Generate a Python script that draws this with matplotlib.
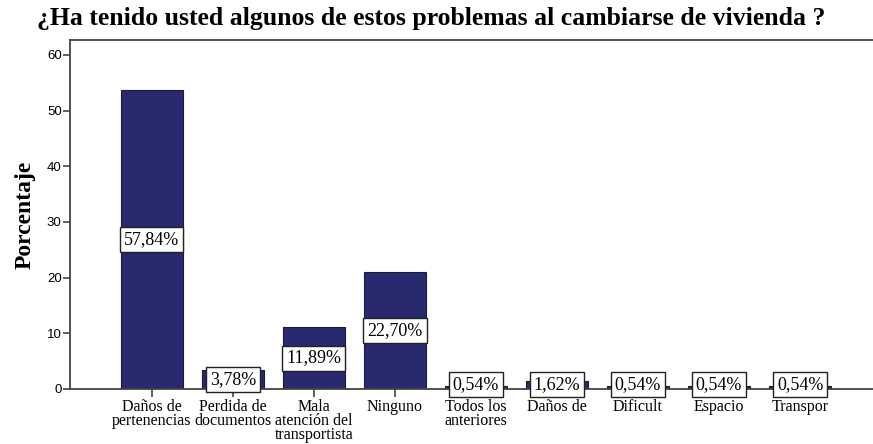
import numpy as np
import matplotlib
matplotlib.use("Agg")
import matplotlib.pyplot as plt

# categories and values
categories = ["Daños de\npertenencias", "Perdida de\ndocumentos", "Mala\natención del\ntransportista",
              "Ninguno", "Todos los\nanteriores", "Daños de", "Dificult", "Espacio", "Transpor"]
heights = [53.7, 3.5, 11.1, 21.1, 0.5, 1.5, 0.5, 0.5, 0.5]
bar_labels = ["57,84%", "3,78%", "11,89%", "22,70%", "0,54%", "1,62%", "0,54%", "0,54%", "0,54%"]
y_ticks = [0, 10, 20, 30, 40, 50, 60]

bar_color = "#29296f"
serif = "Liberation Serif"
sans = "Liberation Sans"

fig = plt.figure(figsize=(8.73, 4.44), dpi=100)
ax = fig.add_axes([0.0802, 0.1239, 0.9198, 0.7861])

x = np.arange(len(categories))
ax.bar(x, heights, width=0.76, color=bar_color, edgecolor="#1a1a3a", linewidth=0.8, zorder=2)

# value boxes at half the bar height
for xi, h, lab in zip(x, heights, bar_labels):
    ax.text(xi, max(h / 2, 0.8), lab, ha="center", va="center", fontsize=13, family=serif, zorder=4,
            bbox=dict(boxstyle="square,pad=0.22", facecolor="white", edgecolor="#222222", linewidth=1.0))

ax.set_xlim(-1.01, 8.9)
ax.set_ylim(0, 62.7)
ax.set_yticks(y_ticks)
ax.set_xticks(x)
ax.set_xticklabels(categories, family=serif, fontsize=11.5, linespacing=0.85)
for t in ax.get_yticklabels():
    t.set_family(sans)
    t.set_fontsize(9.5)

ax.spines["right"].set_visible(False)
for s in ["left", "bottom", "top"]:
    ax.spines[s].set_color("#444444")
    ax.spines[s].set_linewidth(1.3)
ax.spines["bottom"].set_zorder(3)
ax.tick_params(axis="y", direction="out", length=5, width=1.2, color="#444444", pad=1)
ax.tick_params(axis="x", direction="out", length=6, width=1.2, color="#444444", pad=1)

ax.set_ylabel("Porcentaje", family=serif, fontsize=17, fontweight="bold", labelpad=8)
fig.text(0.494, 0.958, "¿Ha tenido usted algunos de estos problemas al cambiarse de vivienda ?",
         ha="center", va="center", family=serif, fontsize=18.5, fontweight="bold")

fig.savefig("out.png", dpi=100)
